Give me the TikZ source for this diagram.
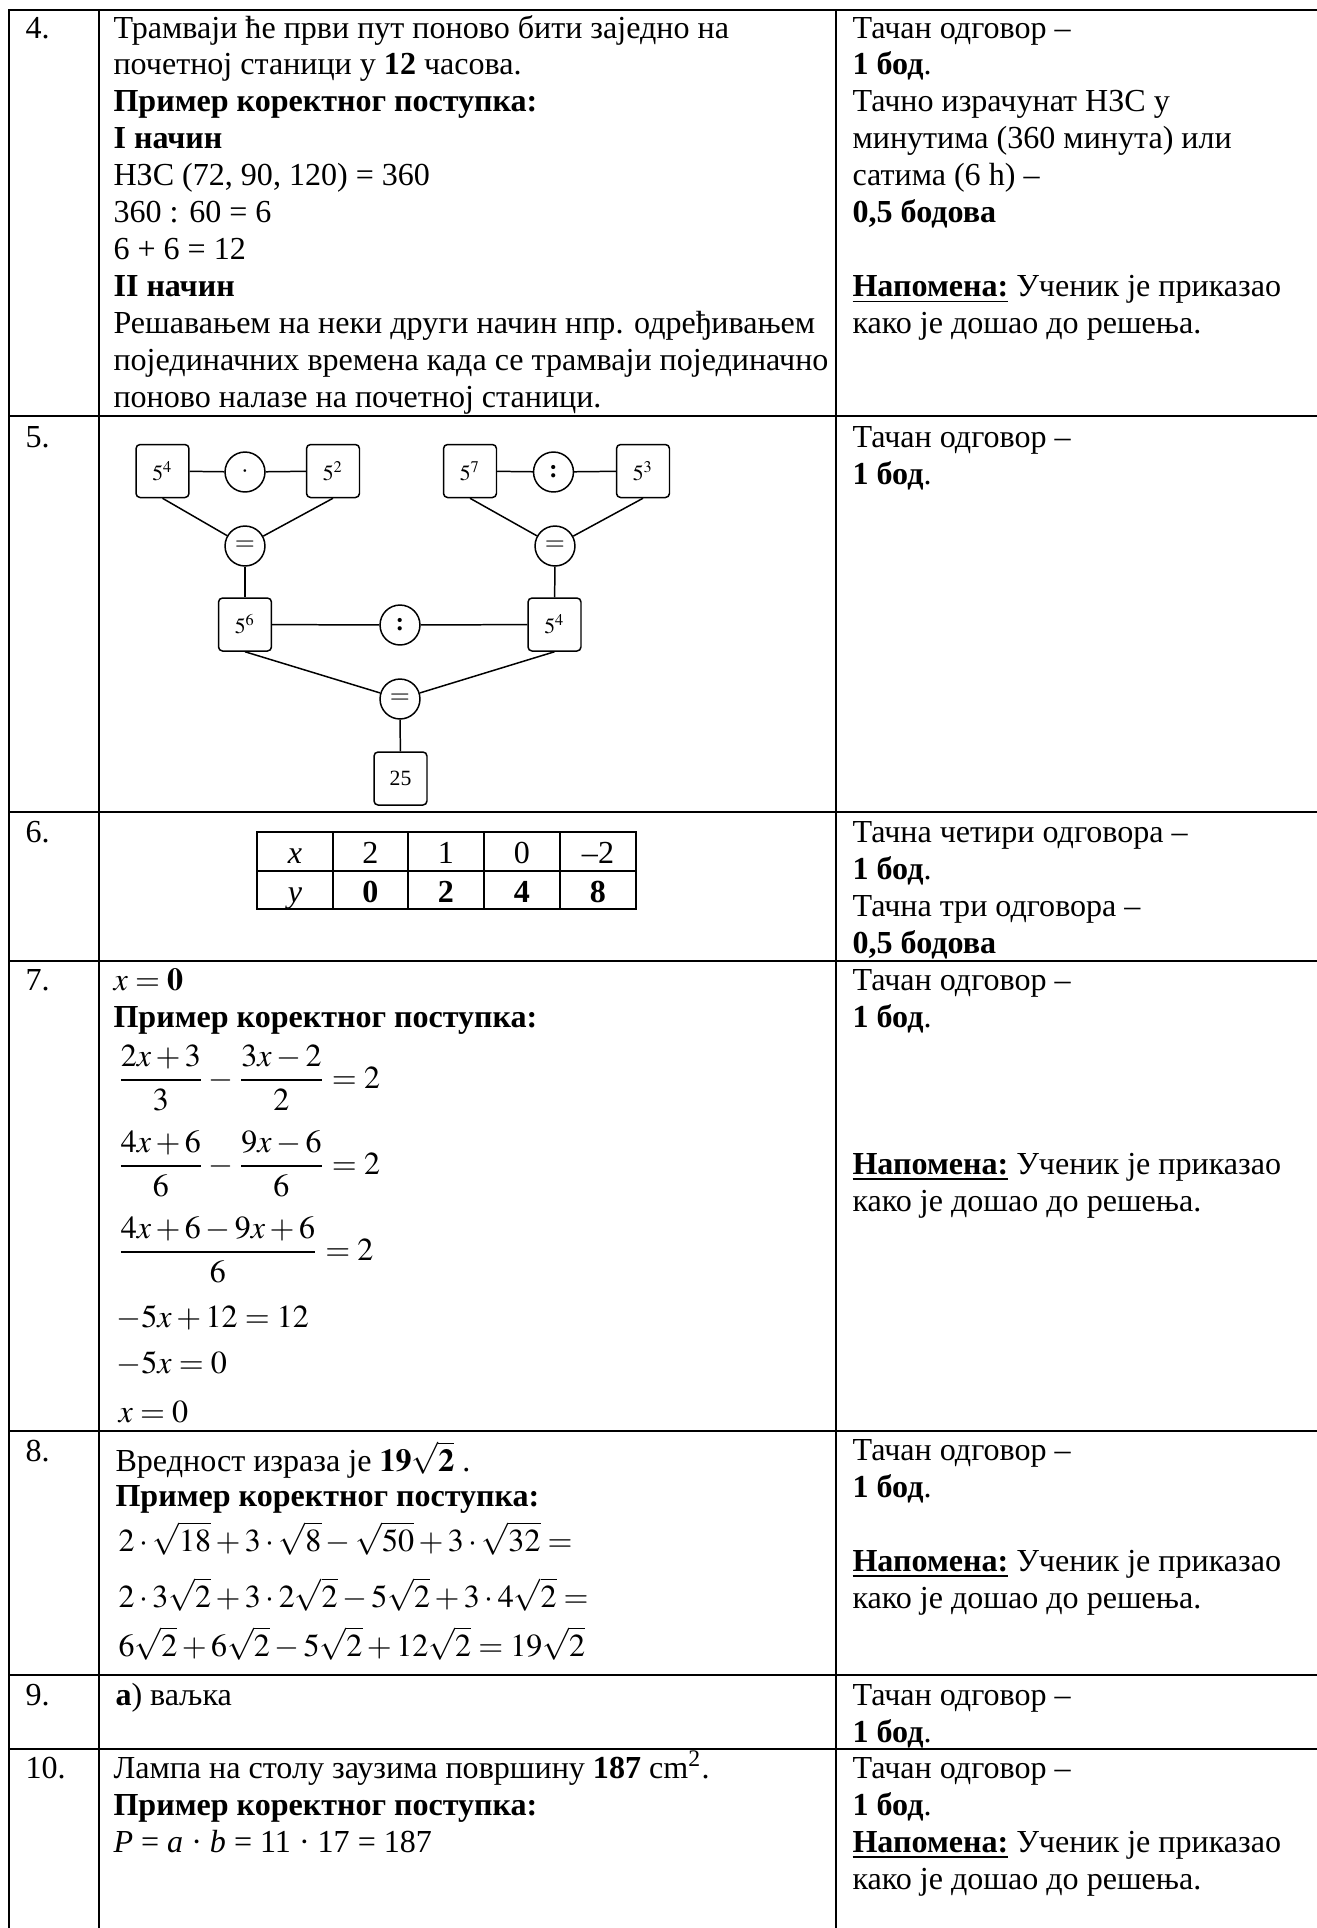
\documentclass[tikz,border=0pt]{standalone}
\usepackage{amsmath}
\usepackage{mathptmx}
\usepackage[no-math]{fontspec}
\setmainfont{Liberation Serif}
\medmuskip=2.5mu
\thickmuskip=4mu
\begin{document}
\begin{tikzpicture}[x=0.368pt,y=-0.368pt,
	every node/.style={inner sep=0pt,font=\fontsize{11.8}{14}\selectfont},
	txt/.style={anchor=base west},
	grid/.style={line width=0.8pt},
	sqbox/.style={draw,rounded corners=1.5pt,minimum size=19.5pt,line width=0.55pt,font=\fontsize{8}{9}\selectfont},
	opnode/.style={draw,circle,minimum size=14.7pt,line width=0.55pt,font=\fontsize{9.5}{10}\selectfont},
	link/.style={line width=0.55pt},
	cell/.style={anchor=base}]
	\useasboundingbox (0,0) rectangle (1317,1928);
	% table rules
	\draw[grid] (8,10) -- (1317,10);
	\draw[grid] (9,10) -- (9,1928);
	\draw[grid] (99,10) -- (99,1928);
	\draw[grid] (836,10) -- (836,1928);
	\draw[grid] (9,416) -- (1317,416);
	\draw[grid] (9,812) -- (1317,812);
	\draw[grid] (9,961) -- (1317,961);
	\draw[grid] (9,1431) -- (1317,1431);
	\draw[grid] (9,1675) -- (1317,1675);
	\draw[grid] (9,1749) -- (1317,1749);
	% row 4
	\node[txt] (n4) at (25,38) {4.};
	\node[txt] (a4a) at (113,38) {Трамваји ће први пут поново бити заједно на};
	\node[txt] (a4b) at (113,74.9) {почетној станици у \textbf{12} часова.};
	\node[txt] (a4c) at (113,111.8) {\textbf{Пример коректног поступка:}};
	\node[txt] (a4d) at (113,148.7) {\textbf{I начин}};
	\node[txt] (a4e) at (113,185.6) {НЗС (72, 90, 120) = 360};
	\node[txt] (a4f) at (113,222.5) {360 : 60 = 6};
	\node[txt] (a4g) at (113,259.4) {6 + 6 = 12};
	\node[txt] (a4h) at (113,296.3) {\textbf{II начин}};
	\node[txt] (a4i) at (113,333.2) {Решавањем на неки други начин нпр. одређивањем};
	\node[txt] (a4j) at (113,370.1) {појединачних времена када се трамваји појединачно};
	\node[txt] (a4k) at (113,407) {поново налазе на почетној станици.};
	\node[txt] (p4a) at (852,38) {Тачан одговор –};
	\node[txt] (p4b) at (852,74.9) {\textbf{1 бод}.};
	\node[txt] (p4c) at (852,111.8) {Тачно израчунат НЗС у};
	\node[txt] (p4d) at (852,148.7) {минутима (360 минута) или};
	\node[txt] (p4e) at (852,185.6) {сатима (6 h) –};
	\node[txt] (p4f) at (852,222.5) {\textbf{0,5 бодова}};
	\node[txt] (p4g) at (852,296.3) {\underline{\textbf{Напомена:}} Ученик је приказао};
	\node[txt] (p4h) at (852,333.2) {како је дошао до решења.};
	% row 5
	\node[txt] (n5) at (25,447) {5.};
	\node[sqbox] (b54a) at (162.5,471) {$5^4$};
	\node[opnode] (mul) at (245,472) {$\cdot$};
	\node[sqbox] (b52) at (333,471) {$5^2$};
	\node[sqbox] (b57) at (470,471) {$5^7$};
	\node[opnode] (divA) at (553.5,472) {\textbf{:}};
	\node[sqbox] (b53) at (643,471) {$5^3$};
	\node[opnode] (eqA) at (245,546) {$=$};
	\node[opnode] (eqB) at (555,546) {$=$};
	\node[sqbox] (b56) at (245,624.5) {$5^6$};
	\node[opnode] (divB) at (400,625) {\textbf{:}};
	\node[sqbox] (b54b) at (554.5,624.5) {$5^4$};
	\node[opnode] (eqC) at (400,699) {$=$};
	\node[sqbox] (b25) at (400.5,778.5) {25};
	\draw[link] (b54a) -- (mul) -- (b52);
	\draw[link] (b57) -- (divA) -- (b53);
	\draw[link] (b54a.south) -- (eqA);
	\draw[link] (b52.south) -- (eqA);
	\draw[link] (b57.south) -- (eqB);
	\draw[link] (b53.south) -- (eqB);
	\draw[link] (eqA) -- (b56);
	\draw[link] (eqB) -- (b54b);
	\draw[link] (b56) -- (divB) -- (b54b);
	\draw[link] (b56.south) -- (eqC);
	\draw[link] (b54b.south) -- (eqC);
	\draw[link] (eqC) -- (b25);
	\node[txt] (p5a) at (852,447) {Тачан одговор –};
	\node[txt] (p5b) at (852,484) {\textbf{1 бод}.};
	% row 6
	\node[txt] (n6) at (25,842) {6.};
	\draw[grid] (257,832) rectangle (636,909);
	\draw[grid] (257,871) -- (636,871);
	\draw[grid] (333,832) -- (333,909);
	\draw[grid] (408,832) -- (408,909);
	\draw[grid] (484,832) -- (484,909);
	\draw[grid] (560,832) -- (560,909);
	\node[cell] (tx) at (295,863) {\textit{x}};
	\node[cell] (tx1) at (370.5,863) {2};
	\node[cell] (tx2) at (446,863) {1};
	\node[cell] (tx3) at (522,863) {0};
	\node[cell] (tx4) at (598,863) {–2};
	\node[cell] (ty) at (295,902) {\textit{y}};
	\node[cell] (ty1) at (370.5,902) {\textbf{0}};
	\node[cell] (ty2) at (446,902) {\textbf{2}};
	\node[cell] (ty3) at (522,902) {\textbf{4}};
	\node[cell] (ty4) at (598,902) {\textbf{8}};
	\node[txt] (p6a) at (852,842) {Тачна четири одговора –};
	\node[txt] (p6b) at (852,879) {\textbf{1 бод}.};
	\node[txt] (p6c) at (852,916) {Тачна три одговора –};
	\node[txt] (p6d) at (852,953) {\textbf{0,5 бодова}};
	% row 7
	\node[txt] (n7) at (25,990) {7.};
	\node[txt] (a7a) at (113,990) {$x=\mathbf{0}$};
	\node[txt] (a7b) at (113,1027) {\textbf{Пример коректног поступка:}};
	\node[txt] (a7c) at (117,1088) {$\dfrac{2x+3}{3}-\dfrac{3x-2}{2}=2$};
	\node[txt] (a7d) at (117,1174) {$\dfrac{4x+6}{6}-\dfrac{9x-6}{6}=2$};
	\node[txt] (a7e) at (117,1260) {$\dfrac{4x+6-9x+6}{6}=2$};
	\node[txt] (a7f) at (116,1327) {$-5x+12=12$};
	\node[txt] (a7g) at (116,1373) {$-5x=0$};
	\node[txt] (a7h) at (118,1422) {$x=0$};
	\node[txt] (p7a) at (852,990) {Тачан одговор –};
	\node[txt] (p7b) at (852,1027) {\textbf{1 бод}.};
	\node[txt] (p7c) at (852,1174) {\underline{\textbf{Напомена:}} Ученик је приказао};
	\node[txt] (p7d) at (852,1211) {како је дошао до решења.};
	% row 8
	\node[txt] (n8) at (25,1461) {8.};
	\node[txt] (a8a) at (115,1471) {Вредност израза је $\mathbf{19}\sqrt{\mathbf{2}}$ .};
	\node[txt] (a8b) at (115,1506) {\textbf{Пример коректног поступка:}};
	\node[txt] (a8c) at (118,1551) {$2\cdot\sqrt{18}+3\cdot\sqrt{8}-\sqrt{50}+3\cdot\sqrt{32}=$};
	\node[txt] (a8d) at (118,1607) {$2\cdot3\sqrt{2}+3\cdot2\sqrt{2}-5\sqrt{2}+3\cdot4\sqrt{2}=$};
	\node[txt] (a8e) at (118,1656) {$6\sqrt{2}+6\sqrt{2}-5\sqrt{2}+12\sqrt{2}=19\sqrt{2}$};
	\node[txt] (p8a) at (852,1460) {Тачан одговор –};
	\node[txt] (p8b) at (852,1497) {\textbf{1 бод}.};
	\node[txt] (p8c) at (852,1571) {\underline{\textbf{Напомена:}} Ученик је приказао};
	\node[txt] (p8d) at (852,1608) {како је дошао до решења.};
	% row 9
	\node[txt] (n9) at (25,1705) {9.};
	\node[txt] (a9a) at (115,1705) {\textbf{а}) ваљка};
	\node[txt] (p9a) at (852,1705) {Тачан одговор –};
	\node[txt] (p9b) at (852,1742) {\textbf{1 бод}.};
	% row 10
	\node[txt] (n10) at (25,1778) {10.};
	\node[txt] (a10a) at (113,1778) {Лампа на столу заузима површину \textbf{187} cm\textsuperscript{2}.};
	\node[txt] (a10b) at (113,1815) {\textbf{Пример коректног поступка:}};
	\node[txt] (a10c) at (113,1852) {\textit{P} = \textit{a} · \textit{b} = 11 · 17 = 187};
	\node[txt] (p10a) at (852,1778) {Тачан одговор –};
	\node[txt] (p10b) at (852,1815) {\textbf{1 бод}.};
	\node[txt] (p10c) at (852,1852) {\underline{\textbf{Напомена:}} Ученик је приказао};
	\node[txt] (p10d) at (852,1889) {како је дошао до решења.};
\end{tikzpicture}
\end{document}
